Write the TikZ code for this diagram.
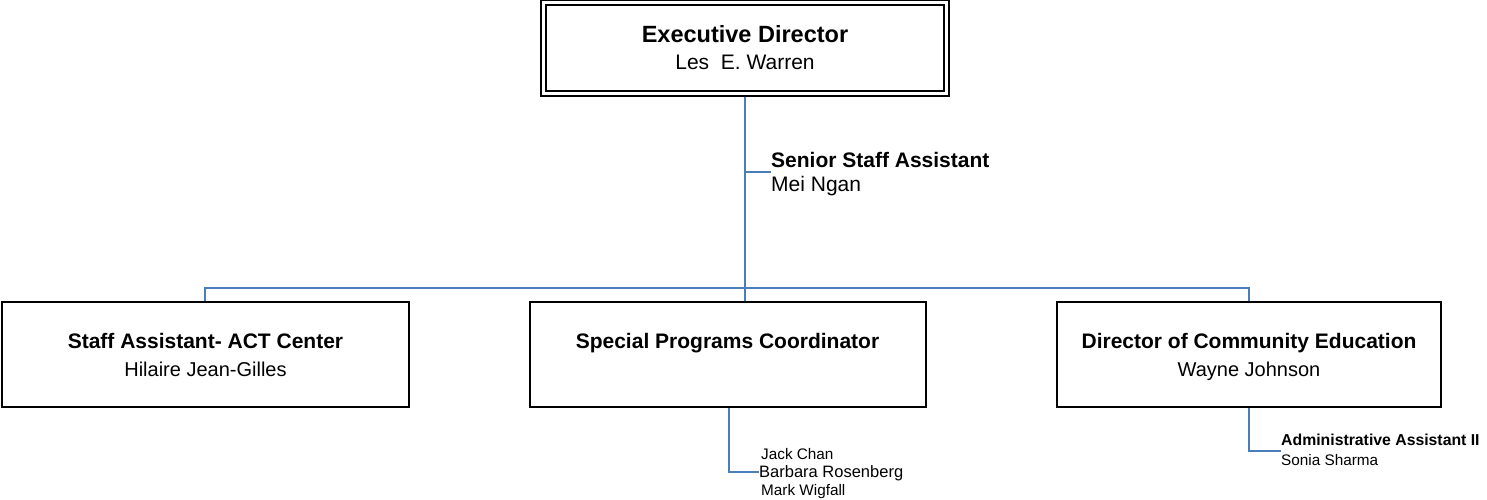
\documentclass[tikz,border=0pt]{standalone}
\usepackage{fontspec}
\setmainfont{Liberation Sans}
\usetikzlibrary{backgrounds}
\definecolor{connblue}{HTML}{4A7EBB}
\begin{document}
\begin{tikzpicture}[x=1pt,y=-1pt,
  box/.style={draw=black, line width=2pt, fill=white, inner sep=0pt},
  dbox/.style={draw=black, double, double distance=3.3pt, line width=1.7pt, fill=white, inner sep=0pt},
  conn/.style={draw=connblue, line width=2pt},
  bigttl/.style={font=\fontsize{23.5}{27}\selectfont\bfseries, inner sep=0pt, anchor=base},
  ttl/.style={font=\fontsize{21}{25}\selectfont\bfseries, inner sep=0pt, anchor=base},
  nm/.style={font=\fontsize{20}{24}\selectfont, inner sep=0pt, anchor=base},
  sttl/.style={font=\fontsize{21}{25}\selectfont\bfseries, inner sep=0pt, anchor=base west},
  snm/.style={font=\fontsize{21}{25}\selectfont, inner sep=0pt, anchor=base west},
  tttl/.style={font=\fontsize{15.8}{19}\selectfont\bfseries, inner sep=0pt, anchor=base west},
  tnm/.style={font=\fontsize{15.3}{19}\selectfont, inner sep=0pt, anchor=base west}
]
\useasboundingbox (0,0) rectangle (1487,499);

% boxes
\node[dbox, minimum width=403pt, minimum height=91pt] (exec) at (745,48.2) {};
\node[box, minimum width=407pt, minimum height=105pt] (left) at (205.3,354.5) {};
\node[box, minimum width=396pt, minimum height=105pt] (mid) at (728,354.5) {};
\node[box, minimum width=384pt, minimum height=105pt] (right) at (1249,354.5) {};

% box texts
\node[bigttl] (exect) at (745,42.7) {Executive Director};
\node[nm, font=\fontsize{21}{25}\selectfont] (execn) at (745,69) {Les~~E. Warren};
\node[ttl] (leftt) at (205.5,348) {Staff Assistant- ACT Center};
\node[nm] (leftn) at (205.5,376.5) {Hilaire Jean-Gilles};
\node[ttl] (midt) at (727.5,348) {Special Programs Coordinator};
\node[ttl] (rightt) at (1249,348) {Director of Community Education};
\node[nm] (rightn) at (1249,376.5) {Wayne Johnson};

% side texts
\node[sttl] (sst) at (771,167.7) {Senior Staff Assistant};
\node[snm] (sstn) at (771,191.7) {Mei Ngan};
\node[tnm] (jc) at (761,459) {Jack Chan};
\node[tnm, font=\fontsize{16.5}{19}\selectfont] (br) at (759,477) {Barbara Rosenberg};
\node[tnm] (mw) at (761,495) {Mark Wigfall};
\node[tttl] (aa) at (1281,445.7) {Administrative Assistant II};
\node[tnm] (ss) at (1281,465) {Sonia Sharma};

\coordinate (sj) at (745,172);
\coordinate (bus) at (745,288);
\coordinate (aj) at (1249,451);
\coordinate (bj) at (729,472);

\begin{pgfonlayer}{background}
\draw[conn] (exec.south -| sj) -- (mid.north -| sj);
\draw[conn] (sj) -- (sst.west |- sj);
\draw[conn] (left.north) -- (left.north |- bus) -- (right.north |- bus) -- (right.north);
\draw[conn] (mid.south -| bj) -- (bj) -- (br.west |- bj);
\draw[conn] (right.south) -- (aj) -- (aa.west |- aj);
\end{pgfonlayer}
\end{tikzpicture}
\end{document}
